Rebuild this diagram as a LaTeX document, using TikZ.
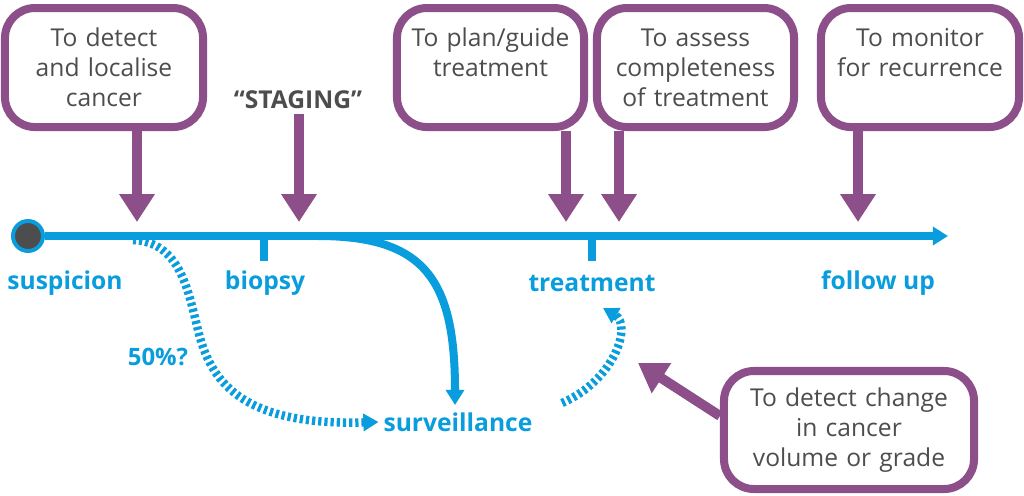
\documentclass[tikz,border=0pt]{standalone}
\usepackage{fontspec}
\setmainfont{Open Sans}
\usetikzlibrary{arrows.meta, positioning, calc}
\definecolor{goalpurple}{HTML}{8C4F8A}
\definecolor{pathblue}{HTML}{0A9DDD}
\definecolor{textgray}{HTML}{4D4D4D}

\begin{document}
\begin{tikzpicture}[
    x=0.025cm, y=-0.025cm,
    box/.style={rectangle, rounded corners=0.75cm, draw=goalpurple, line width=5.7pt, fill=white, text=textgray, align=center, anchor=north, minimum height=2.975cm, inner sep=0pt, font=\fontsize{17.5}{21.3}\selectfont},
    pointer/.style={draw=goalpurple, line width=7pt, -{Triangle[width=0.85cm, length=0.7cm]}},
    stage/.style={text=pathblue, font=\bfseries\fontsize{17.5}{20}\selectfont},
    timeline/.style={draw=pathblue, line width=5.7pt},
    maybe/.style={draw=pathblue, line width=6pt, dash pattern=on 2.3pt off 2.1pt, -{Triangle[width=0.42cm, length=0.38cm]}}
]
\useasboundingbox (0,0) rectangle (1024,495);

% Timeline
\node (start) [circle, fill=textgray, draw=pathblue, line width=2.8pt, minimum size=0.75cm, inner sep=0pt] at (28,236) {};
\coordinate (lineend) at (948,236);
\coordinate (biopsytick) at (264,236);
\coordinate (treattick) at (592,236);
\draw [timeline, -{Triangle[width=0.45cm, length=0.38cm]}] (start) -- (lineend);
\draw [timeline] (biopsytick) -- ++(0,25);
\draw [timeline] (treattick) -- ++(0,25);

\node (suspicion) [stage] at (65,283) {suspicion};
\node (biopsy) [stage] at (265,283) {biopsy};
\node (treatment) [stage] at (592,283) {treatment};
\node (followup) [stage] at (878,283) {follow up};
\node (surveillance) [stage] at (458,422) {surveillance};
\node (chance) [stage, font=\bfseries\fontsize{17}{20}\selectfont] at (158,357) {50\%?};

% Branches
\coordinate (branch) at (318,236);
\coordinate (drop) at (455,405);
\coordinate (early) at (133,240);
\coordinate (back) at (562,403);
\coordinate (backend) at (603,308);
\draw [timeline, -{Triangle[width=0.45cm, length=0.38cm]}] (branch) .. controls (425,236) and (455,280) .. (drop);
\draw [maybe] (early) .. controls (180,242) and (188,290) .. (198,330) .. controls (210,380) and (240,426) .. (surveillance.west);
\draw [maybe] (back) .. controls (615,380) and (632,325) .. (backend);

% Goals
\node (detect) [box, minimum width=4.95cm, text width=4.4cm] at (104,4) {To detect\\and localise\\cancer};
\node (staging) [text=textgray, font=\bfseries\fontsize{17.5}{21}\selectfont] at (298,100) {“STAGING”};
\node (plan) [box, minimum width=4.675cm, text width=4.4cm] at (490.5,4) {To plan/guide\\treatment\\\mbox{}};
\node (assess) [box, minimum width=4.925cm, text width=4.6cm] at (695.5,4) {To assess\\completeness\\of treatment};
\node (monitor) [box, minimum width=4.95cm, text width=4.7cm] at (920,4) {To monitor\\for recurrence\\\mbox{}};
\node (change) [box, anchor=center, minimum width=6.25cm, minimum height=2.95cm, text width=5.8cm] at (849,430) {To detect change\\in cancer\\volume or grade};

\coordinate (hitdetect) at (137,222);
\coordinate (hitstaging) at (299,222);
\coordinate (hitplan) at (566,222);
\coordinate (hitassess) at (619,222);
\coordinate (hitmonitor) at (858,222);
\coordinate (hitchange) at (638,363);

% Pointers
\draw [pointer] (detect.south -| hitdetect) -- (hitdetect);
\draw [pointer] (staging.south -| hitstaging) -- (hitstaging);
\draw [pointer] (plan.south -| hitplan) -- (hitplan);
\draw [pointer] (assess.south -| hitassess) -- (hitassess);
\draw [pointer] (monitor.south -| hitmonitor) -- (hitmonitor);
\draw [pointer] ([yshift=10pt]change.west) -- (hitchange);

\end{tikzpicture}
\end{document}
